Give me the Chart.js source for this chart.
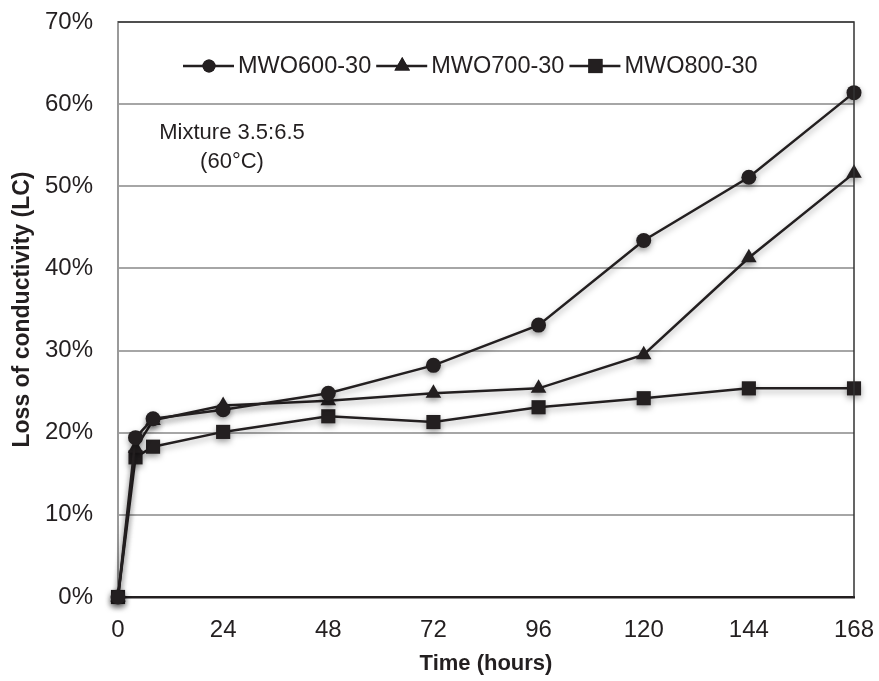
<!DOCTYPE html>
<html>
<head>
<meta charset="utf-8">
<script src="https://cdn.jsdelivr.net/npm/chart.js@4"></script>
<style>
  html, body { margin: 0; padding: 0; background: #fff; }
  #wrap { width: 879px; height: 681px; }
</style>
</head>
<body>
<div id="wrap"><canvas id="lc"></canvas></div>
<script>
const hours = [0, 4, 8, 24, 48, 72, 96, 120, 144, 168];
const mwo600 = [0, 19.4, 21.7, 22.8, 24.8, 28.2, 33.1, 43.4, 51.1, 61.4];
const mwo700 = [0, 18.1, 21.5, 23.3, 23.9, 24.8, 25.4, 29.5, 41.3, 51.6];
const mwo800 = [0, 17.0, 18.3, 20.1, 22.0, 21.3, 23.1, 24.2, 25.4, 25.4];
const xTicks = [0, 24, 48, 72, 96, 120, 144, 168];
const seriesNames = ['MWO600-30', 'MWO700-30', 'MWO800-30'];

const ink = '#231f20';
const font = 'Arial, "Liberation Sans", sans-serif';

function pts(vals) {
  return hours.map((h, i) => ({ x: h, y: vals[i] }));
}

function series(label, vals, style, radius) {
  return {
    label: label,
    data: pts(vals),
    borderColor: ink,
    backgroundColor: ink,
    borderWidth: 2.5,
    pointStyle: style,
    pointRadius: radius,
    pointHoverRadius: radius,
    pointBorderWidth: 0,
    tension: 0,
    clip: false
  };
}

// legend drawn inside the plot, plus the note
const extras = {
  id: 'extras',
  beforeDatasetsDraw(chart) {
    const ctx = chart.ctx;
    ctx.save();
    ctx.shadowColor = 'rgba(0,0,0,0.35)';
    ctx.shadowBlur = 6;
    ctx.shadowOffsetY = 3;
  },
  afterDatasetsDraw(chart) {
    chart.ctx.restore();
  },
  afterDraw(chart) {
    const ctx = chart.ctx;
    ctx.save();
    ctx.fillStyle = ink;
    ctx.strokeStyle = ink;
    ctx.font = '23.5px ' + font;
    ctx.textBaseline = 'middle';
    const y = 66;
    let x = 183;
    chart.data.datasets.forEach((ds) => {
      ctx.lineWidth = 2.5;
      ctx.beginPath();
      ctx.moveTo(x, y);
      ctx.lineTo(x + 51, y);
      ctx.stroke();
      const r = ds.pointStyle === 'circle' ? 6.5 : ds.pointRadius;
      Chart.helpers.drawPoint(ctx, { pointStyle: ds.pointStyle, radius: r, rotation: 0, borderWidth: 0 }, x + 26, y);
      ctx.fill();
      ctx.fillText(ds.label, x + 55, y + 1);
      x += 55 + ctx.measureText(ds.label).width + 5;
    });
    ctx.font = '22px ' + font;
    ctx.textAlign = 'center';
    ctx.fillText('Mixture 3.5:6.5', 232, 133);
    ctx.fillText('(60°C)', 232, 162);
    ctx.restore();
  }
};

new Chart(document.getElementById('lc'), {
  type: 'line',
  data: {
    datasets: [
      series(seriesNames[0], mwo600, 'circle', 7.5),
      series(seriesNames[1], mwo700, 'triangle', 9),
      series(seriesNames[2], mwo800, 'rect', 10)
    ]
  },
  options: {
    responsive: true,
    maintainAspectRatio: false,
    animation: false,
    layout: { padding: { left: 0, right: 25, top: 22, bottom: 0 } },
    plugins: {
      legend: { display: false },
      tooltip: { enabled: false }
    },
    scales: {
      x: {
        type: 'linear',
        min: 0,
        max: 168,
        afterBuildTicks(axis) {
          axis.ticks = xTicks.map(v => ({ value: v }));
        },
        afterFit(axis) {
          axis.height = 84;
          axis.paddingLeft = 0;
          axis.paddingRight = 0;
        },
        grid: { display: false },
        border: { color: ink, width: 2.5 },
        ticks: { color: ink, font: { family: font, size: 24 }, padding: 11, maxRotation: 0 },
        title: {
          display: true,
          text: 'Time (hours)',
          color: ink,
          font: { family: font, size: 22, weight: 'bold' },
          padding: { top: 6, bottom: 4 }
        }
      },
      y: {
        min: 0,
        max: 70,
        afterFit(axis) {
          axis.width = 118;
          axis.paddingTop = 0;
          axis.paddingBottom = 0;
        },
        ticks: {
          stepSize: 10,
          color: ink,
          font: { family: font, size: 24 },
          padding: 25,
          callback: v => v + '%'
        },
        grid: { color: '#a6a6a6', lineWidth: 2, drawTicks: false },
        border: { color: '#9a9a9a', width: 2 },
        title: {
          display: true,
          text: 'Loss of conductivity (LC)',
          color: ink,
          font: { family: font, size: 23, weight: 'bold' },
          padding: { top: 9, bottom: 0 }
        }
      }
    }
  },
  plugins: [extras, {
    id: 'frame',
    afterDraw(chart) {
      const a = chart.chartArea;
      const ctx = chart.ctx;
      ctx.save();
      ctx.strokeStyle = '#333';
      ctx.lineWidth = 1.5;
      ctx.beginPath();
      ctx.moveTo(a.left, a.top);
      ctx.lineTo(a.right, a.top);
      ctx.lineTo(a.right, a.bottom);
      ctx.stroke();
      ctx.restore();
    }
  }]
});
</script>
</body>
</html>
